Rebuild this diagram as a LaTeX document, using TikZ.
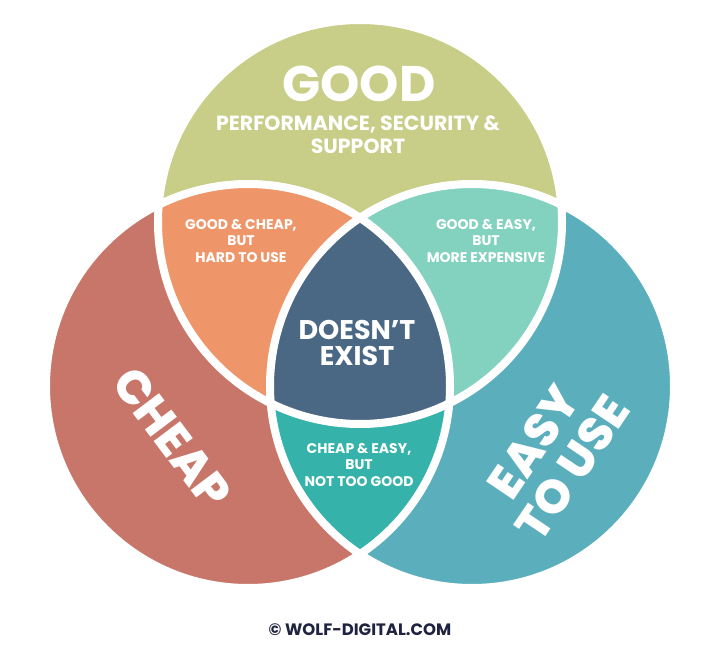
\documentclass[tikz,border=0pt]{standalone}
\usepackage{fontspec}
\setmainfont{Poppins}
\newfontfamily\heavyfont{Poppins ExtraBold}
\usepackage{tikz}
\usetikzlibrary{positioning}
\definecolor{goodgreen}{HTML}{C8CE87}
\definecolor{cheapred}{HTML}{C8766A}
\definecolor{easyblue}{HTML}{5BAFBC}
\definecolor{goodcheapc}{HTML}{EE9669}
\definecolor{goodeasyc}{HTML}{82D2BF}
\definecolor{cheapeasyc}{HTML}{35B2A9}
\definecolor{corec}{HTML}{4A6784}
\definecolor{creditc}{HTML}{1F2340}
\def\vennr{202pt}

\begin{document}
\begin{tikzpicture}[
x=1pt, y=-1pt,
ring/.style={draw=white, line width=8pt},
words/.style={text=white, align=center, inner sep=0pt},
title/.style={words, font=\fontsize{50}{50}\selectfont\bfseries},
subtitle/.style={words, font=\fontsize{20.5}{23}\selectfont\bfseries},
region/.style={words, font=\fontsize{14}{16.5}\selectfont\bfseries},
core/.style={words, font=\fontsize{27}{26}\selectfont\bfseries},
big/.style={words, font=\fontsize{47}{47}\heavyfont},
credit/.style={text=creditc, inner sep=0pt, font=\fontsize{16.5}{16.5}\selectfont\bfseries}
]
\useasboundingbox (0,0) rectangle (719,650);

\coordinate (topc) at (360,222);
\coordinate (leftc) at (248,386);
\coordinate (rightc) at (472,386);

% plain sets
\fill[goodgreen] (topc) circle[radius=\vennr];
\fill[cheapred] (leftc) circle[radius=\vennr];
\fill[easyblue] (rightc) circle[radius=\vennr];

% overlaps
\begin{scope}
\clip (leftc) circle[radius=\vennr];
\fill[cheapeasyc] (rightc) circle[radius=\vennr];
\end{scope}
\begin{scope}
\clip (topc) circle[radius=\vennr];
\fill[goodcheapc] (leftc) circle[radius=\vennr];
\fill[goodeasyc] (rightc) circle[radius=\vennr];
\clip (leftc) circle[radius=\vennr];
\fill[corec] (rightc) circle[radius=\vennr];
\end{scope}

\draw[ring] (topc) circle[radius=\vennr];
\draw[ring] (leftc) circle[radius=\vennr];
\draw[ring] (rightc) circle[radius=\vennr];

\node[title] (good) at (359,84) {GOOD};
\node[subtitle] (goodsub) at (358,135) {PERFORMANCE, SECURITY \&\\SUPPORT};
\node[region] (goodcheap) at (241,241) {GOOD \& CHEAP,\\BUT\\HARD TO USE};
\node[region] (goodeasy) at (486,241) {GOOD \& EASY,\\BUT\\MORE EXPENSIVE};
\node[core] (none) at (357,343) {DOESN’T\\EXIST};
\node[region] (cheapeasy) at (359,465) {CHEAP \& EASY,\\BUT\\NOT TOO GOOD};
\node[big, rotate=-53] (cheap) at (172,438) {CHEAP};
\node[big, rotate=56] (easy) at (553,455) {EASY\\TO USE};
\node[credit] (copy) at (360,630) {© WOLF-DIGITAL.COM};
\end{tikzpicture}
\end{document}
